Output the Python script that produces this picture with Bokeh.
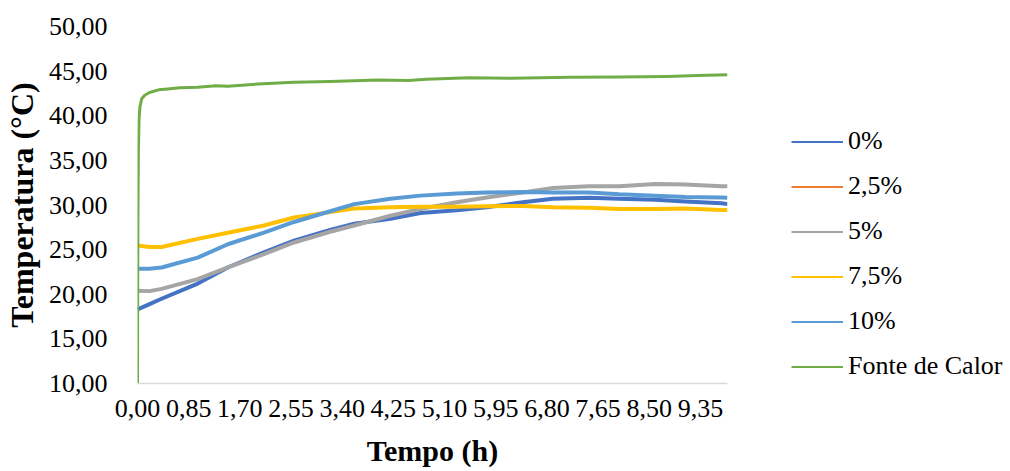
from bokeh.plotting import figure
from bokeh.layouts import row
from bokeh.models import Range1d, FixedTicker, CustomJSTickFormatter, Legend, LegendItem
from bokeh.embed import file_html
from bokeh.resources import INLINE

# ---------------- data ----------------
series_names = ["0%", "2,5%", "5%", "7,5%", "10%", "Fonte de Calor"]
series_colors = ["#4472C4", "#ED7D31", "#A5A5A5", "#FFC000", "#5B9BD5", "#70AD47"]

time_h = [0.0, 0.2, 0.4, 1.0, 1.5, 2.1, 2.6, 3.2, 3.6, 4.2, 4.7, 5.3, 5.8,
          6.4, 6.9, 7.5, 8.0, 8.6, 9.1, 9.7, 9.8]
temp_0 = [18.3, 18.9, 19.5, 21.2, 23.0, 24.7, 26.0, 27.2, 27.9, 28.45, 29.1, 29.4, 29.75,
          30.3, 30.7, 30.8, 30.7, 30.6, 30.4, 30.2, 30.1]
temp_2_5 = []  # present in legend only, not visible in the plot
temp_5 = [20.4, 20.35, 20.6, 21.7, 23.0, 24.5, 25.8, 27.0, 27.7, 28.8, 29.55, 30.3, 30.85,
          31.4, 31.9, 32.1, 32.1, 32.35, 32.3, 32.1, 32.1]
temp_7_5 = [25.45, 25.3, 25.3, 26.2, 26.9, 27.7, 28.6, 29.2, 29.6, 29.75, 29.8, 29.8, 29.85,
            29.9, 29.75, 29.7, 29.55, 29.55, 29.6, 29.45, 29.45]
temp_10 = [22.85, 22.85, 23.0, 24.1, 25.6, 26.9, 28.1, 29.3, 30.1, 30.7, 31.05, 31.3, 31.4,
           31.45, 31.4, 31.4, 31.2, 31.05, 30.9, 30.85, 30.8]

time_fonte = [0.0, 0.003, 0.008, 0.015, 0.025, 0.04, 0.07, 0.12, 0.2, 0.35, 0.5, 0.7, 1.0,
              1.3, 1.5, 2.0, 2.6, 3.2, 4.0, 4.5, 4.8, 5.5, 6.2, 7.2, 8.0, 8.8, 9.3, 9.8]
temp_fonte = [10.0, 20.0, 30.0, 36.0, 39.5, 41.0, 41.9, 42.3, 42.6, 42.9, 43.0, 43.15, 43.2,
              43.35, 43.3, 43.55, 43.75, 43.85, 44.0, 43.95, 44.1, 44.25, 44.2, 44.3, 44.35,
              44.4, 44.5, 44.6]

x_ticks = [0.0, 0.85, 1.7, 2.55, 3.4, 4.25, 5.1, 5.95, 6.8, 7.65, 8.5, 9.35]
y_ticks = [10, 15, 20, 25, 30, 35, 40, 45, 50]

FONT = "Liberation Serif"
H = 469

p = figure(width=732, height=H, output_backend="svg", toolbar_location=None,
           x_range=Range1d(0, 9.8), y_range=Range1d(10, 50),
           min_border_left=133, min_border_right=5, min_border_top=26, min_border_bottom=60)
p.outline_line_color = None
p.xgrid.grid_line_color = None
p.ygrid.grid_line_color = None

fmt = CustomJSTickFormatter(code="return tick.toFixed(2).replace('.', ',');")

p.xaxis.ticker = FixedTicker(ticks=x_ticks)
p.xaxis.formatter = fmt
p.xaxis.axis_line_color = "#D9D9D9"
p.xaxis.axis_line_width = 1.5
p.xaxis.major_tick_line_color = None
p.xaxis.minor_tick_line_color = None
p.xaxis.major_label_text_font = FONT
p.xaxis.major_label_text_font_size = "26px"
p.xaxis.major_label_text_color = "#000000"
p.xaxis.major_label_standoff = 10
p.xaxis.axis_label = "Tempo (h)"
p.xaxis.axis_label_text_font = FONT
p.xaxis.axis_label_text_font_style = "bold"
p.xaxis.axis_label_text_font_size = "30px"
p.xaxis.axis_label_text_color = "#000000"
p.xaxis.axis_label_standoff = 14

p.yaxis.ticker = FixedTicker(ticks=y_ticks)
p.yaxis.formatter = fmt
p.yaxis.axis_line_color = None
p.yaxis.major_tick_line_color = None
p.yaxis.minor_tick_line_color = None
p.yaxis.major_label_text_font = FONT
p.yaxis.major_label_text_font_size = "26px"
p.yaxis.major_label_text_color = "#000000"
p.yaxis.major_label_standoff = 24
p.yaxis.axis_label = "Temperatura (°C)"
p.yaxis.axis_label_text_font = FONT
p.yaxis.axis_label_text_font_style = "bold"
p.yaxis.axis_label_text_font_size = "32px"
p.yaxis.axis_label_text_color = "#000000"
p.yaxis.axis_label_standoff = 6

data_sets = [(time_h, temp_0), (time_h[:len(temp_2_5)], temp_2_5), (time_h, temp_5),
             (time_h, temp_7_5), (time_h, temp_10), (time_fonte, temp_fonte)]

for name, color, (xs, ys) in zip(series_names, series_colors, data_sets):
    lw = 3 if name == "Fonte de Calor" else 4
    p.line(xs, ys, line_color=color, line_width=lw, line_join="round")

# legend panel (a separate, axis-less figure to the right)
lp = figure(width=274, height=H, output_backend="svg", toolbar_location=None,
            x_range=Range1d(0, 1), y_range=Range1d(0, 1), min_border=0)
lp.axis.visible = False
lp.grid.grid_line_color = None
lp.outline_line_color = None

nan = float("nan")
items = []
for name, color in zip(series_names, series_colors):
    swatch = lp.line([nan], [nan], line_color=color, line_width=2)
    items.append(LegendItem(label=name, renderers=[swatch]))

legend = Legend(items=items, location=(59, 2))
legend.glyph_width = 52
legend.glyph_height = 25
legend.label_height = 25
legend.label_standoff = 5
legend.spacing = 15
legend.padding = 0
legend.margin = 0
legend.border_line_color = None
legend.background_fill_alpha = 0
legend.label_text_font = FONT
legend.label_text_font_size = "26px"
legend.label_text_color = "#000000"
lp.add_layout(legend, "center")

layout = row(p, lp)
open("out.html", "w").write(file_html(layout, INLINE))
